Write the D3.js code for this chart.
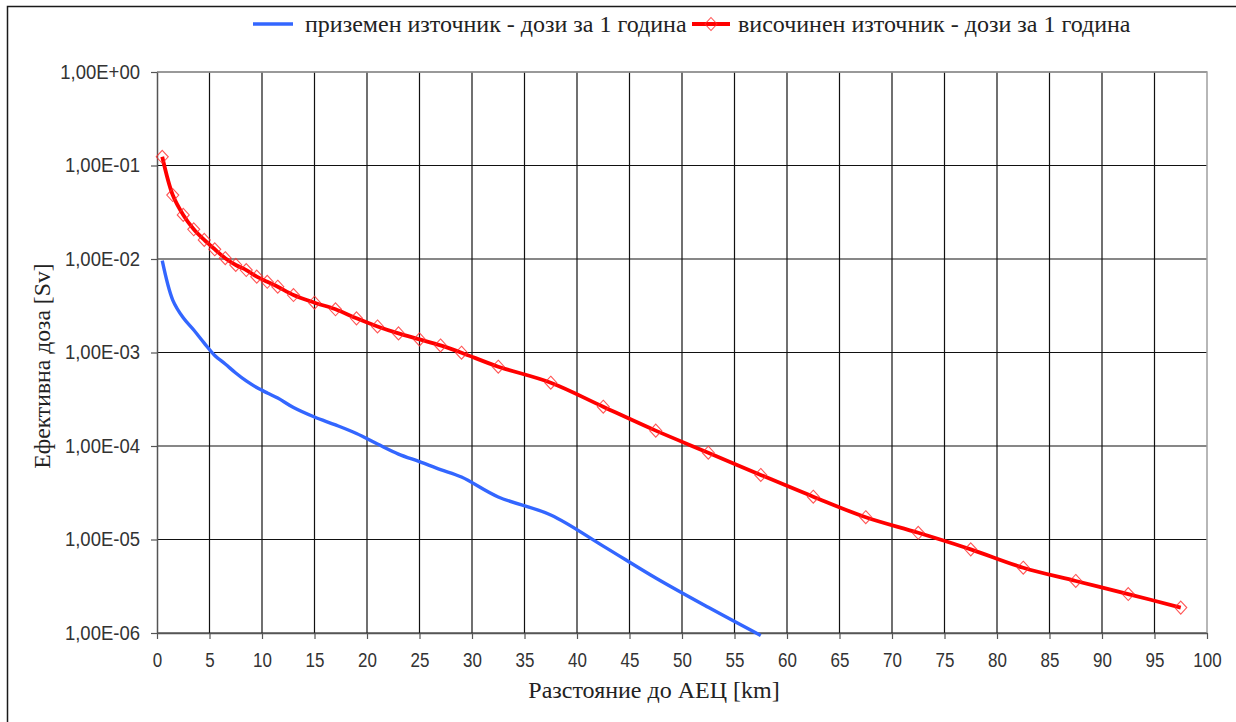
<!DOCTYPE html>
<html>
<head>
<meta charset="utf-8">
<script src="https://cdn.jsdelivr.net/npm/d3@7"></script>
<style>
  body { margin: 0; background: #fff; }
  svg { display: block; }
</style>
</head>
<body>
<svg id="chart" width="1236" height="722"></svg>
<script>
// Sector mid-points (km from the plant)
const distanceKm = [0.5, 1.5, 2.5, 3.5, 4.5, 5.5, 6.5, 7.5, 8.5, 9.5, 10.5, 11.5,
  13, 15, 17, 19, 21, 23, 25, 27, 29,
  32.5, 37.5, 42.5, 47.5, 52.5, 57.5, 62.5, 67.5, 72.5, 77.5, 82.5, 87.5, 92.5, 97.5];

// Ground-level release, annual effective dose [Sv]
const groundDose = [9.6e-3, 3.64e-3, 2.35e-3, 1.74e-3, 1.26e-3, 9.3e-4, 7.53e-4, 6.04e-4, 4.96e-4, 4.22e-4, 3.69e-4, 3.26e-4,
  2.58e-4, 2.04e-4, 1.68e-4, 1.36e-4, 1.05e-4, 8.2e-5, 6.8e-5, 5.6e-5, 4.66e-5,
  2.85e-5, 1.83e-5, 8.5e-6, 3.87e-6, 1.88e-6, 9.4e-7];

// Elevated (stack) release, annual effective dose [Sv]
const stackDose = [0.124, 0.0483, 0.0296, 0.0208, 0.0160, 0.0127, 0.0102, 0.00863, 0.00762, 0.00647, 0.00571, 0.00505,
  0.00412, 0.00341, 0.0029, 0.00232, 0.0019, 0.0016, 0.00138, 0.00119, 0.000995,
  0.000705, 0.000475, 0.000263, 0.000146, 8.48e-5, 4.9e-5, 2.87e-5, 1.73e-5, 1.18e-5, 7.85e-6, 4.99e-6, 3.6e-6, 2.61e-6, 1.87e-6];

const seriesNames = ["приземен източник - дози за 1 година", "височинен източник - дози за 1 година"];
const xTickValues = [0, 5, 10, 15, 20, 25, 30, 35, 40, 45, 50, 55, 60, 65, 70, 75, 80, 85, 90, 95, 100];
const yTickValues = [1, 1e-1, 1e-2, 1e-3, 1e-4, 1e-5, 1e-6];
const yTickLabels = ["1,00E+00", "1,00E-01", "1,00E-02", "1,00E-03", "1,00E-04", "1,00E-05", "1,00E-06"];
const xTitle = "Разстояние до АЕЦ [km]";
const yTitle = "Ефективна доза [Sv]";

const svg = d3.select("#chart");
const plot = { left: 157, right: 1207, top: 72, bottom: 633 };

const x = d3.scaleLinear().domain([0, 100]).range([plot.left, plot.right]);
const y = d3.scaleLog().domain([1e-6, 1]).range([plot.bottom, plot.top]);

const serif = "'Liberation Serif', 'Times New Roman', serif";
const sans = "'Liberation Sans', Arial, sans-serif";

// Chart frame (top and left edges)
svg.append("path")
  .attr("d", "M7.5,722 L7.5,6.5 L1236,6.5")
  .attr("fill", "none").attr("stroke", "#1a1a1a").attr("stroke-width", 1.5);

// Grid
const grid = svg.append("g").attr("stroke", "#111").attr("stroke-width", 1.2);
grid.selectAll("line.h").data(yTickValues).join("line").attr("class", "h")
  .attr("x1", plot.left).attr("x2", plot.right)
  .attr("y1", d => y(d)).attr("y2", d => y(d));
grid.selectAll("line.v").data(xTickValues.filter(d => d > 0 && d < 100)).join("line").attr("class", "v")
  .attr("y1", plot.top).attr("y2", plot.bottom)
  .attr("x1", d => x(d)).attr("x2", d => x(d));

// Plot-area border (top / right)
svg.append("path")
  .attr("d", `M${plot.left},${plot.top} L${plot.right},${plot.top} L${plot.right},${plot.bottom}`)
  .attr("fill", "none").attr("stroke", "#a0a0a0").attr("stroke-width", 1.5);

// Axes
const yAxis = d3.axisLeft(y).tickValues(yTickValues)
  .tickFormat((d, i) => yTickLabels[i]).tickSize(6).tickSizeOuter(0).tickPadding(11);
const xAxis = d3.axisBottom(x).tickValues(xTickValues)
  .tickFormat(d => d).tickSize(6).tickSizeOuter(0).tickPadding(11.5);

const gy = svg.append("g").attr("transform", `translate(${plot.left},0)`).call(yAxis);
const gx = svg.append("g").attr("transform", `translate(0,${plot.bottom})`).call(xAxis);
[gx, gy].forEach(g => {
  g.select(".domain").attr("stroke", "#555").attr("stroke-width", 1.5);
  g.selectAll(".tick line").attr("stroke", "#555").attr("stroke-width", 1.2);
  g.selectAll(".tick text").attr("fill", "#333").style("font-family", sans);
});
gy.selectAll(".tick text").style("font-size", "18.5px").attr("transform", "scale(1,1.08)");
gx.selectAll(".tick text").style("font-size", "17px").attr("transform", "scale(1,1.15)");

// Axis titles
svg.append("text")
  .attr("x", 654).attr("y", 698)
  .attr("text-anchor", "middle")
  .style("font-family", serif).style("font-size", "24px").attr("fill", "#222")
  .text(xTitle);
svg.append("text")
  .attr("transform", "translate(50,366) rotate(-90)")
  .attr("text-anchor", "middle")
  .style("font-family", serif).style("font-size", "23.7px").attr("fill", "#222")
  .text(yTitle);

// Series lines
const line = d3.line()
  .x(d => x(d[0])).y(d => y(d[1]))
  .curve(d3.curveCatmullRom.alpha(0.5));

const groundPts = groundDose.map((v, i) => [distanceKm[i], v]);
const stackPts = stackDose.map((v, i) => [distanceKm[i], v]);

svg.append("path").datum(groundPts)
  .attr("d", line).attr("fill", "none")
  .attr("stroke", "#3366ff").attr("stroke-width", 3.4).attr("stroke-linejoin", "round");

svg.append("path").datum(stackPts)
  .attr("d", line).attr("fill", "none")
  .attr("stroke", "#ff0000").attr("stroke-width", 3.8).attr("stroke-linejoin", "round");

// Diamond markers on the elevated-release series
const diamond = "M0,-6.5 L6,0 L0,6.5 L-6,0 Z";
svg.append("g").selectAll("path").data(stackPts).join("path")
  .attr("d", diamond)
  .attr("transform", d => `translate(${x(d[0])},${y(d[1])})`)
  .attr("fill", "none").attr("stroke", "#ff2a2a").attr("stroke-opacity", 0.8).attr("stroke-width", 1.1);

// Legend
const legend = svg.append("g");
legend.append("line").attr("x1", 253).attr("x2", 293).attr("y1", 24).attr("y2", 24)
  .attr("stroke", "#3366ff").attr("stroke-width", 3.6);
legend.append("text").attr("x", 305).attr("y", 32)
  .style("font-family", serif).style("font-size", "24px").attr("fill", "#222")
  .text(seriesNames[0]);
legend.append("line").attr("x1", 692).attr("x2", 730).attr("y1", 24).attr("y2", 24)
  .attr("stroke", "#ff0000").attr("stroke-width", 3.8);
legend.append("path").attr("d", diamond).attr("transform", "translate(711,24)")
  .attr("fill", "none").attr("stroke", "#ff2a2a").attr("stroke-opacity", 0.8).attr("stroke-width", 1.1);
legend.append("text").attr("x", 738).attr("y", 32)
  .style("font-family", serif).style("font-size", "24px").attr("fill", "#222")
  .text(seriesNames[1]);
</script>
</body>
</html>
